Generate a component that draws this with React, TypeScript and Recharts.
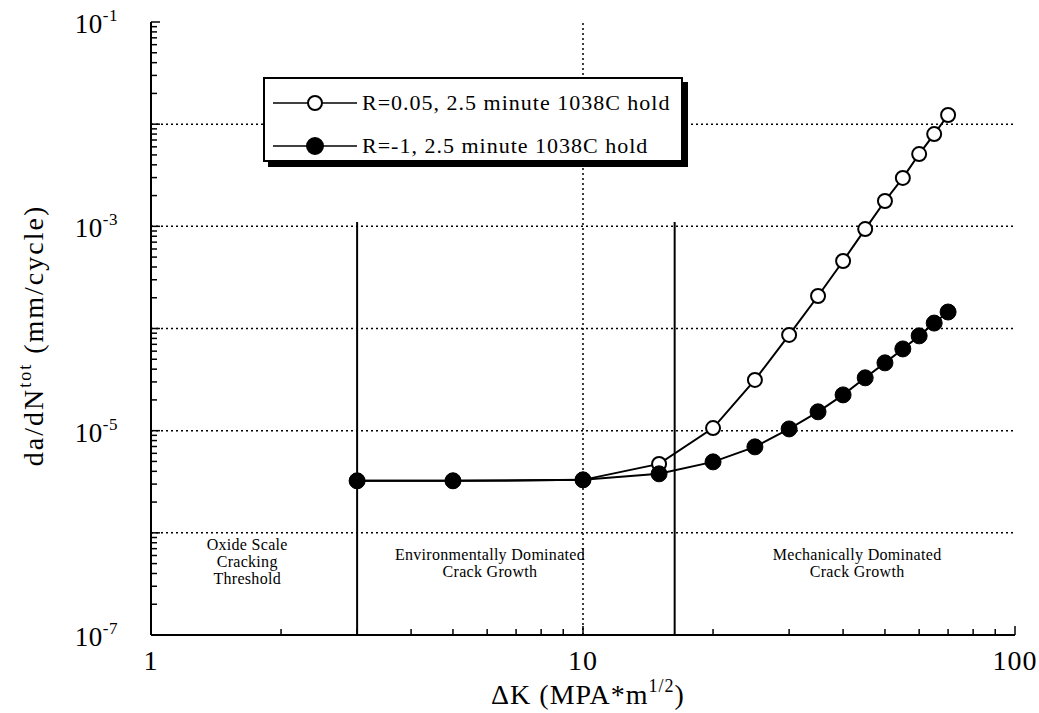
import React from 'react';
import { LineChart, Line, XAxis, YAxis, ReferenceLine, ReferenceDot, Legend } from 'recharts';

// ΔK (MPa*m^1/2) and crack growth rate da/dN (mm/cycle)
const deltaK = [3, 5, 10, 15, 20, 25, 30, 35, 40, 45, 50, 55, 60, 65, 70];
const rateR005 = [3.23e-6, 3.23e-6, 3.3e-6, 4.73e-6, 1.06e-5, 3.14e-5, 8.65e-5, 2.08e-4, 4.58e-4, 9.4e-4, 1.77e-3, 2.98e-3, 5.1e-3, 8.0e-3, 1.23e-2];
const rateRm1 = [3.23e-6, 3.23e-6, 3.3e-6, 3.78e-6, 4.95e-6, 6.94e-6, 1.04e-5, 1.53e-5, 2.24e-5, 3.29e-5, 4.61e-5, 6.31e-5, 8.47e-5, 1.13e-4, 1.45e-4];

const seriesNames = ['R=0.05, 2.5 minute 1038C hold', 'R=-1, 2.5 minute 1038C hold'];

const xDecades = [1, 10, 100];
const yExponents = [-7, -6, -5, -4, -3, -2, -1];
const yLabelExponents = [-7, -5, -3, -1];
const xGridLines = [10];
const yGridExponents = [-6, -5, -4, -3, -2];

// region boundaries (solid vertical lines)
const regionBounds = [3, 16.3];
const regionTop = 1.1e-3;

const regionNotes = [
  { x: 1.67, y: 5.2e-7, lines: ['Oxide Scale', 'Cracking', 'Threshold'] },
  { x: 6.09, y: 5.0e-7, lines: ['Environmentally Dominated', 'Crack Growth'] },
  { x: 43.1, y: 5.0e-7, lines: ['Mechanically Dominated', 'Crack Growth'] },
];

const dataR005 = deltaK.map((k, i) => ({ x: k, y: rateR005[i] }));
const dataRm1 = deltaK.map((k, i) => ({ x: k, y: rateRm1[i] }));

const xTicks: number[] = [];
xDecades.slice(0, -1).forEach(d => { for (let m = 1; m < 10; m++) xTicks.push(d * m); });
xTicks.push(100);
const yTicks: number[] = [];
yExponents.slice(0, -1).forEach(e => { for (let m = 1; m < 10; m++) yTicks.push(m * Math.pow(10, e)); });
yTicks.push(0.1);

const FONT = '"Liberation Serif", "DejaVu Serif", serif';

const isMajor = (v: number) => {
  const e = Math.round(Math.log10(v));
  return { major: Math.abs(v / Math.pow(10, e) - 1) < 1e-6, e };
};

const BottomTick = ({ x, y, payload }: any) => {
  const { major } = isMajor(payload.value);
  return (
    <g>
      <line x1={x} y1={y} x2={x} y2={y - (major ? 9 : 6)} stroke="#000" strokeWidth={1.5} />
      {major && (
        <text x={x} y={y + 35} textAnchor="middle" fontFamily={FONT} fontSize={28} letterSpacing={1} fill="#000">
          {payload.value}
        </text>
      )}
    </g>
  );
};

const TopTick = ({ x, y, payload }: any) => {
  const { major } = isMajor(payload.value);
  return <line x1={x} y1={y} x2={x} y2={y + (major ? 9 : 6)} stroke="#000" strokeWidth={1.5} />;
};

const LeftTick = ({ x, y, payload }: any) => {
  const { major, e } = isMajor(payload.value);
  return (
    <g>
      <line x1={x} y1={y} x2={x + (major ? 9 : 6)} y2={y} stroke="#000" strokeWidth={1.5} />
      {major && yLabelExponents.includes(e) && (
        <text x={x - 33} y={y + 11} textAnchor="end" fontFamily={FONT} fontSize={27} letterSpacing={0.5} fill="#000">
          10<tspan dy={-12} fontSize={17}>{e}</tspan>
        </text>
      )}
    </g>
  );
};

const RightTick = ({ x, y, payload }: any) => {
  const { major } = isMajor(payload.value);
  return <line x1={x} y1={y} x2={x - (major ? 9 : 6)} y2={y} stroke="#000" strokeWidth={1.5} />;
};

const noteLabel = (lines: string[]) => ({ viewBox }: any) => {
  const cx = viewBox.x + viewBox.width / 2;
  const cy = viewBox.y + viewBox.height / 2;
  const step = 17;
  const y0 = cy - ((lines.length - 1) * step) / 2 + 5;
  return (
    <text textAnchor="middle" fontFamily={FONT} fontSize={16} letterSpacing={0.3} fill="#000">
      {lines.map((l, i) => (
        <tspan key={i} x={cx} y={y0 + i * step}>{l}</tspan>
      ))}
    </text>
  );
};

const LegendBox = () => (
  <div style={{ width: 416, height: 81, border: '2px solid #000', boxShadow: '5px 5px 0 #000', background: '#fff' }}>
    <svg width={416} height={81}>
      {seriesNames.map((name, i) => {
        const cy = 24 + i * 43;
        return (
          <g key={name}>
            <line x1={8} y1={cy} x2={92} y2={cy} stroke="#000" strokeWidth={1.5} />
            <circle cx={50} cy={cy} r={i === 0 ? 7 : 8} fill={i === 0 ? '#fff' : '#000'} stroke="#000" strokeWidth={2} />
            <text x={97} y={cy + 7} fontFamily={FONT} fontSize={22} letterSpacing={1} fill="#000">{name}</text>
          </g>
        );
      })}
    </svg>
  </div>
);

const App: React.FC = () => {
  return (
    <div style={{ width: 1039, height: 713, background: '#fff', position: 'relative' }}>
      <style>{'body{margin:0;background:#fff}'}</style>
      <LineChart width={1039} height={713} margin={{ top: 22, right: 24, bottom: 0, left: 0 }}>
        <XAxis
          xAxisId="bottom"
          dataKey="x"
          type="number"
          scale="log"
          domain={[1, 100]}
          ticks={xTicks}
          interval={0}
          allowDataOverflow
          height={78}
          tickSize={0}
          tickMargin={0}
          tickLine={false}
          axisLine={{ stroke: '#000', strokeWidth: 2 }}
          tick={<BottomTick />}
          label={{
            content: ({ viewBox }: any) => (
              <text x={viewBox.x + viewBox.width / 2 + 5} y={704} textAnchor="middle" fontFamily={FONT} fontSize={28} letterSpacing={1} fill="#000">
                ΔK (MPA*m<tspan dy={-12} fontSize={18}>1/2</tspan><tspan dy={12}>)</tspan>
              </text>
            ),
          }}
        />
        <XAxis
          xAxisId="top"
          orientation="top"
          dataKey="x"
          type="number"
          scale="log"
          domain={[1, 100]}
          ticks={xTicks}
          interval={0}
          allowDataOverflow
          height={0}
          tickSize={0}
          tickMargin={0}
          tickLine={false}
          axisLine={{ stroke: '#000', strokeWidth: 2 }}
          tick={<TopTick />}
        />
        <YAxis
          yAxisId="left"
          dataKey="y"
          type="number"
          scale="log"
          domain={[1e-7, 1e-1]}
          ticks={yTicks}
          interval={0}
          allowDataOverflow
          width={151}
          tickSize={0}
          tickMargin={0}
          tickLine={false}
          axisLine={{ stroke: '#000', strokeWidth: 2 }}
          tick={<LeftTick />}
          label={{
            content: ({ viewBox }: any) => {
              const cy = viewBox.y + viewBox.height / 2 + 7;
              return (
                <text x={43} y={cy} transform={`rotate(-90 43 ${cy})`} textAnchor="middle" fontFamily={FONT} fontSize={28} letterSpacing={2} fill="#000">
                  da/dN<tspan dy={-12} fontSize={18}>tot</tspan><tspan dy={12}> (mm/cycle)</tspan>
                </text>
              );
            },
          }}
        />
        <YAxis
          yAxisId="right"
          orientation="right"
          type="number"
          scale="log"
          domain={[1e-7, 1e-1]}
          ticks={yTicks}
          interval={0}
          allowDataOverflow
          width={0}
          tickSize={0}
          tickMargin={0}
          tickLine={false}
          axisLine={{ stroke: '#000', strokeWidth: 2 }}
          tick={<RightTick />}
        />

        {yGridExponents.map(e => (
          <ReferenceLine key={`gy${e}`} xAxisId="bottom" yAxisId="left" y={Math.pow(10, e)} stroke="#000" strokeWidth={1.5} strokeDasharray="2 3" />
        ))}
        {xGridLines.map(v => (
          <ReferenceLine key={`gx${v}`} xAxisId="bottom" yAxisId="left" x={v} stroke="#000" strokeWidth={1.5} strokeDasharray="2 3" />
        ))}
        {regionBounds.map(v => (
          <ReferenceLine
            key={`rb${v}`}
            xAxisId="bottom"
            yAxisId="left"
            segment={[{ x: v, y: 1e-7 }, { x: v, y: regionTop }]}
            stroke="#000"
            strokeWidth={2}
          />
        ))}
        {regionNotes.map((n, i) => (
          <ReferenceDot
            key={`note${i}`}
            xAxisId="bottom"
            yAxisId="left"
            x={n.x}
            y={n.y}
            r={1}
            fill="none"
            stroke="none"
            label={{ content: noteLabel(n.lines) }}
          />
        ))}

        <Line
          xAxisId="bottom"
          yAxisId="left"
          data={dataR005}
          dataKey="y"
          name={seriesNames[0]}
          type="linear"
          stroke="#000"
          strokeWidth={2}
          dot={{ r: 7, fill: '#fff', stroke: '#000', strokeWidth: 2 }}
          activeDot={false}
          isAnimationActive={false}
        />
        <Line
          xAxisId="bottom"
          yAxisId="left"
          data={dataRm1}
          dataKey="y"
          name={seriesNames[1]}
          type="linear"
          stroke="#000"
          strokeWidth={2}
          dot={{ r: 8, fill: '#000', stroke: '#000', strokeWidth: 1 }}
          activeDot={false}
          isAnimationActive={false}
        />

        <Legend
          layout="horizontal"
          verticalAlign="middle"
          align="center"
          content={<LegendBox />}
          wrapperStyle={{ position: 'absolute', left: 263, top: 77, width: 420, height: 85 }}
        />
      </LineChart>
    </div>
  );
};

export default App;
